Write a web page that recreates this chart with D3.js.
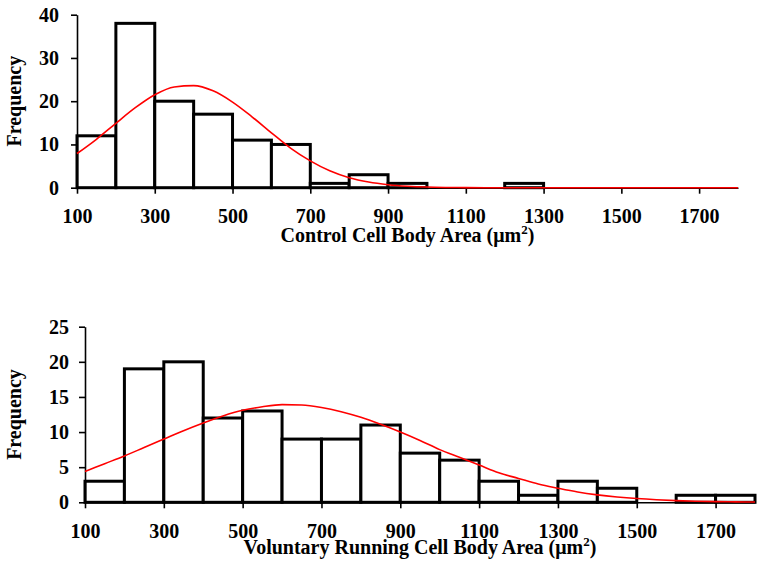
<!DOCTYPE html>
<html><head><meta charset="utf-8">
<script src="https://cdn.jsdelivr.net/npm/d3@7"></script>
<style>body{margin:0;background:#fff}svg{display:block}text{font-family:"Times New Roman","Liberation Serif",serif;font-weight:bold;fill:#000}</style>
</head><body><svg id="c" width="762" height="566"></svg>
<script>
// Bin left edges (µm²), bin width 100
const binStarts = [100,200,300,400,500,600,700,800,900,1000,1100,1200,1300,1400,1500,1600,1700];
const controlCounts = [12,38,20,17,11,10,1,3,1,0,0,1,0,0,0,0,0];
const runningCounts = [3,19,20,12,13,9,9,11,7,6,3,1,3,2,0,1,1];
// fitted normal curve
const curveX = [100,150,200,250,300,350,400,450,500,550,600,650,700,750,800,850,900,950,1000,1050,1100,1150,1200,1250,1300,1350,1400,1450,1500,1550,1600,1650,1700,1750,1800];
const controlCurve = [7.9,11.2,14.9,18.5,21.5,23.3,23.6,22.4,19.8,16.4,12.7,9.1,6.2,3.9,2.3,1.3,0.7,0.35,0.15,0.06,0.02,0,0,0,0,0,0,0,0,0,0,0,0,0,0];
const runningCurve = [4.4,5.5,6.6,7.8,9.0,10.2,11.3,12.3,13.1,13.6,13.9,13.85,13.5,12.9,12.1,11.1,10.0,8.8,7.5,6.4,5.3,4.2,3.4,2.6,2.0,1.46,1.06,0.76,0.53,0.36,0.24,0.16,0.10,0.06,0.04];
const xTicks = [100,300,500,700,900,1100,1300,1500,1700];
const controlYTicks = [0,10,20,30,40];
const runningYTicks = [0,5,10,15,20,25];
const xDomain = [100,1800];

const svg = d3.select("#c");

function panel(o){
  const x = d3.scaleLinear().domain(xDomain).range([o.left,o.right]);
  const y = d3.scaleLinear().domain([0,o.ymax]).range([o.bottom,o.top]);
  const g = svg.append("g");
  const bars = binStarts.map((s,i)=>({s, v:o.counts[i]})).filter(d=>d.v>0);
  g.selectAll("rect").data(bars).join("rect")
    .attr("x",d=>x(d.s)).attr("width",d=>x(d.s+100)-x(d.s))
    .attr("y",d=>y(d.v)).attr("height",d=>y(0)-y(d.v))
    .attr("fill","#fff").attr("stroke","#000").attr("stroke-width",3);
  const xa = g.append("g").attr("transform",`translate(0,${y(0)})`)
    .call(d3.axisBottom(x).tickValues(xTicks).tickFormat(d3.format("d")).tickSize(6).tickSizeOuter(0).tickPadding(o.xpad));
  const ya = g.append("g").attr("transform",`translate(${x(100)},0)`)
    .call(d3.axisLeft(y).tickValues(o.yTicks).tickSize(6).tickSizeOuter(0).tickPadding(o.ypad));
  [xa,ya].forEach(a=>{
    a.selectAll("path,line").attr("stroke","#000").attr("stroke-width",1.6);
    a.selectAll("text").style("font-size","20px").style("font-family",'"Times New Roman","Liberation Serif",serif').style("font-weight","bold");
  });
  const line = d3.line().x(d=>x(d[0])).y(d=>y(d[1])).curve(d3.curveMonotoneX);
  g.append("path").datum(curveX.map((v,i)=>[v,o.curve[i]]))
    .attr("d",line).attr("fill","none").attr("stroke","#f00").attr("stroke-width",1.6);
  const t = g.append("text").attr("x",(o.left+o.right)/2).attr("y",o.titleY)
    .attr("text-anchor","middle").style("font-size","20px");
  t.append("tspan").text(o.title+" (μm");
  t.append("tspan").attr("dy",-8).style("font-size","13px").text("2");
  t.append("tspan").attr("dy",8).text(")");
  g.append("text").attr("transform",`translate(${o.ylabX},${(o.top+o.bottom)/2}) rotate(-90)`)
    .attr("text-anchor","middle").style("font-size","20px").text("Frequency");
}

panel({left:77,right:738,top:14.7,bottom:187.7,ymax:40,counts:controlCounts,curve:controlCurve,yTicks:controlYTicks,
  xpad:15,ypad:12,title:"Control Cell Body Area",titleY:241.5,ylabX:21});
panel({left:85,right:755,top:326.7,bottom:502.3,ymax:25,counts:runningCounts,curve:runningCurve,yTicks:runningYTicks,
  xpad:16,ypad:10,title:"Voluntary Running Cell Body Area",titleY:553.5,ylabX:21});
</script></body></html>
